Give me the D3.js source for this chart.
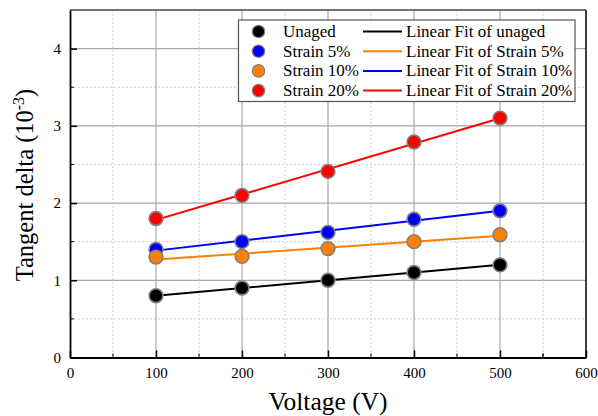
<!DOCTYPE html>
<html><head><meta charset="utf-8">
<script src="https://cdn.jsdelivr.net/npm/d3@7"></script>
<style>
html,body{margin:0;padding:0;background:#fff;}
</style></head>
<body><svg id="c" width="598" height="416"></svg>
<script>
const voltages = [100, 200, 300, 400, 500];
const seriesNames = ["Unaged", "Strain 5%", "Strain 10%", "Strain 20%"];
const unaged   = [0.80, 0.90, 1.00, 1.10, 1.20];
const strain5  = [1.40, 1.50, 1.62, 1.79, 1.90];
const strain10 = [1.30, 1.31, 1.41, 1.50, 1.59];
const strain20 = [1.80, 2.10, 2.41, 2.79, 3.10];
const seriesColors = ["#000000", "#0000ff", "#ff7f00", "#ff0000"];
const fitNames = ["Linear Fit of unaged", "Linear Fit of Strain 5%", "Linear Fit of Strain 10%", "Linear Fit of Strain 20%"];
const fitLegendColors = ["#000000", "#ff7f00", "#0000ff", "#ff0000"];
const xTicks = [0, 100, 200, 300, 400, 500, 600];
const yTicks = [0, 1, 2, 3, 4];

const series = [unaged, strain5, strain10, strain20];
const FONT = '"Liberation Serif"';

const svg = d3.select("#c");
const L = 70, T = 10, R = 586, B = 357.5;
const x = d3.scaleLinear().domain([0, 600]).range([L, R]);
const y = d3.scaleLinear().domain([0, 4.5]).range([B, T]);

// grid
const g = svg.append("g");
const minorX = d3.range(50, 600, 100);
const minorY = d3.range(0.5, 4.5, 1);
g.selectAll(".mx").data(minorX).join("line")
  .attr("x1", d => x(d)).attr("x2", d => x(d)).attr("y1", T).attr("y2", B)
  .attr("stroke", "#cfcfcf").attr("stroke-width", 1).attr("stroke-dasharray", "2,2");
g.selectAll(".my").data(minorY).join("line")
  .attr("x1", L).attr("x2", R).attr("y1", d => y(d)).attr("y2", d => y(d))
  .attr("stroke", "#cfcfcf").attr("stroke-width", 1).attr("stroke-dasharray", "2,2");
g.selectAll(".gx").data(xTicks.slice(1, -1)).join("line")
  .attr("x1", d => x(d)).attr("x2", d => x(d)).attr("y1", T).attr("y2", B)
  .attr("stroke", "#a8a8a8").attr("stroke-width", 1.2);
g.selectAll(".gy").data(yTicks.slice(1)).join("line")
  .attr("x1", L).attr("x2", R).attr("y1", d => y(d)).attr("y2", d => y(d))
  .attr("stroke", "#a8a8a8").attr("stroke-width", 1.2);

// frame
svg.append("line").attr("x1", L).attr("x2", R).attr("y1", T).attr("y2", T).attr("stroke", "#444").attr("stroke-width", 1.5);
svg.append("line").attr("x1", R).attr("x2", R).attr("y1", T).attr("y2", B).attr("stroke", "#000").attr("stroke-width", 1.5);

// axes
const xAxis = d3.axisBottom(x).tickValues(xTicks).tickFormat(d3.format("d")).tickSizeInner(-7).tickSizeOuter(0).tickPadding(10);
const yAxis = d3.axisLeft(y).tickValues(yTicks).tickFormat(d3.format("d")).tickSizeInner(-7).tickSizeOuter(0).tickPadding(9);
const gx = svg.append("g").attr("transform", `translate(0,${B})`).call(xAxis);
const gy = svg.append("g").attr("transform", `translate(${L},0)`).call(yAxis);
[gx, gy].forEach(a => {
  a.attr("font-family", null).attr("font-size", null);
  a.select(".domain").attr("stroke", "#000").attr("stroke-width", 1.8);
  a.selectAll(".tick line").attr("stroke", "#000").attr("stroke-width", 1.5);
  a.selectAll(".tick text").style("font-family", FONT).style("font-size", "15px").attr("fill", "#000");
});
// minor ticks
svg.append("g").selectAll("line").data(minorX.concat([550])).join("line")
  .attr("x1", d => x(d)).attr("x2", d => x(d)).attr("y1", B).attr("y2", B - 4)
  .attr("stroke", "#000").attr("stroke-width", 1);
svg.append("g").selectAll("line").data(minorY).join("line")
  .attr("x1", L).attr("x2", L + 4).attr("y1", d => y(d)).attr("y2", d => y(d))
  .attr("stroke", "#000").attr("stroke-width", 1);

// axis titles
svg.append("text").attr("x", (x(0) + x(600)) / 2).attr("y", 410)
  .attr("text-anchor", "middle").style("font-family", FONT).style("font-size", "25.5px").text("Voltage (V)");
const yl = svg.append("text").attr("transform", `translate(33,${185}) rotate(-90)`)
  .attr("text-anchor", "middle").style("font-family", FONT).style("font-size", "24.5px");
yl.append("tspan").text("Tangent delta (10");
yl.append("tspan").attr("dy", -9).style("font-size", "16px").text("-3");
yl.append("tspan").attr("dy", 9).text(")");

// fit lines
function fit(xs, ys) {
  const mx = d3.mean(xs), my = d3.mean(ys);
  const b = d3.sum(xs, (v, i) => (v - mx) * (ys[i] - my)) / d3.sum(xs, v => (v - mx) ** 2);
  return { b, a: my - b * mx };
}
series.forEach((s, i) => {
  const f = fit(voltages, s);
  const x0 = d3.min(voltages), x1 = d3.max(voltages);
  svg.append("line").attr("x1", x(x0)).attr("x2", x(x1))
    .attr("y1", y(f.a + f.b * x0)).attr("y2", y(f.a + f.b * x1))
    .attr("stroke", seriesColors[i]).attr("stroke-width", 2);
});
// markers
series.forEach((s, i) => {
  svg.append("g").selectAll("circle").data(s).join("circle")
    .attr("cx", (d, j) => x(voltages[j])).attr("cy", d => y(d)).attr("r", 6.9)
    .attr("fill", seriesColors[i]).attr("stroke", "#808080").attr("stroke-width", 1.6);
});

// legend
const lg = svg.append("g");
lg.append("rect").attr("x", 238.5).attr("y", 20).attr("width", 336.5).attr("height", 81.5)
  .attr("fill", "#fff").attr("stroke", "#555").attr("stroke-width", 1.2);
seriesNames.forEach((n, i) => {
  const cy = 31.5 + i * 19.7;
  lg.append("circle").attr("cx", 258.5).attr("cy", cy).attr("r", 6.2).attr("fill", seriesColors[i])
    .attr("stroke", "#808080").attr("stroke-width", 1.2);
  lg.append("text").attr("x", 283).attr("y", cy + 5.5).style("font-family", FONT).style("font-size", "17px").text(n);
  lg.append("line").attr("x1", 363).attr("x2", 402).attr("y1", cy).attr("y2", cy)
    .attr("stroke", fitLegendColors[i]).attr("stroke-width", 2);
  lg.append("text").attr("x", 406).attr("y", cy + 5.5).style("font-family", FONT).style("font-size", "17px").text(fitNames[i]);
});
</script></body></html>
